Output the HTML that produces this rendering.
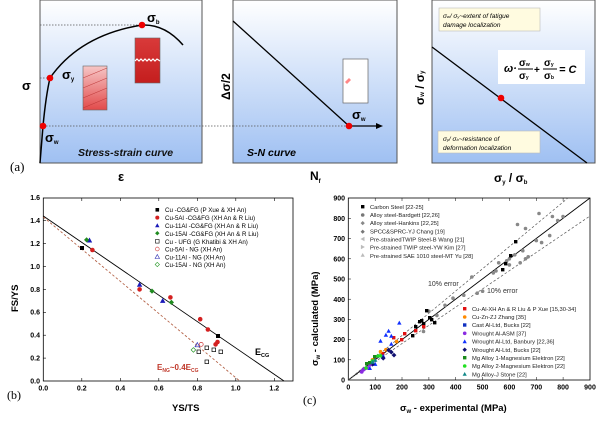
<!DOCTYPE html>
<html><head><style>
body{margin:0;background:#fff;}
svg{font-family:"Liberation Sans",Arial,sans-serif;}
</style></head><body>
<svg width="600" height="420" viewBox="0 0 600 420" xmlns="http://www.w3.org/2000/svg">
<defs>
<linearGradient id="bg" x1="0" y1="0" x2="0" y2="1"><stop offset="0" stop-color="#fff"/><stop offset="1" stop-color="#9fc0f2"/></linearGradient>
<linearGradient id="pk" x1="0" y1="0" x2="0" y2="1"><stop offset="0" stop-color="#f6c6c6"/><stop offset="1" stop-color="#e24a4a"/></linearGradient>
<linearGradient id="rd" x1="0" y1="0" x2="0" y2="1"><stop offset="0" stop-color="#d93a3a"/><stop offset="1" stop-color="#c41e1e"/></linearGradient>
</defs>
<!-- Panel a1 -->
<rect x="40" y="0" width="162" height="163" fill="url(#bg)" stroke="#555" stroke-width="1"/>
<line x1="40" y1="25" x2="142" y2="25" stroke="#555" stroke-dasharray="1.5,1.5" stroke-width="0.7"/>
<line x1="40" y1="78" x2="50" y2="78" stroke="#555" stroke-dasharray="1.5,1.5" stroke-width="0.7"/>
<line x1="40" y1="126" x2="349" y2="126" stroke="#555" stroke-dasharray="1.5,1.5" stroke-width="0.7"/>
<path d="M40,163 L43,126 Q46,95 50,78 Q80,35 142,25 Q165,24 183,45" fill="none" stroke="#000" stroke-width="1.5"/>
<rect x="83" y="66" width="24" height="44" fill="url(#pk)" stroke="#666" stroke-width="0.6"/>
<g stroke="#b33" stroke-width="0.5"><line x1="83" y1="78" x2="107" y2="68"/><line x1="83" y1="88" x2="107" y2="78"/><line x1="83" y1="98" x2="107" y2="88"/><line x1="83" y1="108" x2="107" y2="98"/></g>
<rect x="135" y="38" width="25" height="45" fill="url(#rd)" stroke="#666" stroke-width="0.6"/>
<path d="M135,61 l2,-2 l2,2 l2,-2 l2,2 l2,-2 l2,2 l2,-2 l2,2 l2,-2 l2,2 l2,-2 l3,2" fill="none" stroke="#fff" stroke-width="1.2"/>
<circle cx="43" cy="126" r="3.3" fill="#e00"/><circle cx="50" cy="78" r="3.3" fill="#e00"/><circle cx="142" cy="25" r="3.3" fill="#e00"/>
<text x="147" y="22" font-size="13" font-weight="bold">σ<tspan font-size="6" dy="2">b</tspan></text>
<text x="62" y="79" font-size="13" font-weight="bold">σ<tspan font-size="6" dy="2">y</tspan></text>
<text x="45" y="142" font-size="13" font-weight="bold">σ<tspan font-size="6" dy="2">w</tspan></text>
<text x="78" y="156" font-size="10.5" font-weight="bold" font-style="italic" fill="#111">Stress-strain curve</text>
<text x="22" y="90" font-size="13" font-weight="bold">σ</text>
<text x="118" y="181" font-size="13" font-weight="bold">ε</text>
<text x="10" y="171" font-size="13" font-family="Liberation Serif">(a)</text>
<!-- Panel a2 -->
<rect x="233" y="0" width="164" height="163" fill="url(#bg)" stroke="#555" stroke-width="1"/>
<line x1="233" y1="126" x2="349" y2="126" stroke="#555" stroke-dasharray="1.5,1.5" stroke-width="0.7"/>
<line x1="233" y1="21" x2="349" y2="126" stroke="#000" stroke-width="1.3"/>
<line x1="349" y1="126" x2="378" y2="126" stroke="#000" stroke-width="1.3"/><path d="M383,126 l-7,-3 v6z" fill="#000"/>
<rect x="343" y="59" width="25" height="44" fill="#fff" stroke="#666" stroke-width="0.7"/>
<path d="M345,82 l4,-4 l2,2 l-4,4z" fill="#f88"/>
<circle cx="349" cy="126" r="3.3" fill="#e00"/>
<text x="352" y="119" font-size="13" font-weight="bold">σ<tspan font-size="6" dy="2">w</tspan></text>
<text x="247" y="156" font-size="10.5" font-weight="bold" font-style="italic">S-N curve</text>
<text transform="translate(230,100) rotate(-90)" font-size="12" font-weight="bold">Δσ/2</text>
<text x="310" y="180" font-size="12" font-weight="bold">N<tspan font-size="6" dy="3">f</tspan></text>
<!-- Panel a3 -->
<rect x="432" y="0" width="163" height="163" fill="url(#bg)" stroke="#555" stroke-width="1"/>
<line x1="432" y1="47" x2="587" y2="163" stroke="#000" stroke-width="1.3"/>
<circle cx="501" cy="98" r="3.3" fill="#e00"/>
<rect x="439" y="8" width="101" height="23" fill="#fffbe0" stroke="#bbb" stroke-width="0.6"/>
<text x="443" y="18" font-size="6.5" font-style="italic">σ<tspan font-size="4">w</tspan>/ σ<tspan font-size="4">y</tspan>~extent of fatigue</text>
<text x="443" y="27" font-size="6.5" font-style="italic">damage localization</text>
<rect x="498" y="50" width="87" height="34" fill="#fff"/>
<text x="504" y="72" font-size="11" font-weight="bold" font-style="italic">ω·</text>
<text x="519" y="66" font-size="10" font-weight="bold">σ<tspan font-size="5">w</tspan></text><line x1="518" y1="69" x2="533" y2="69" stroke="#000"/><text x="519" y="79" font-size="10" font-weight="bold">σ<tspan font-size="5">y</tspan></text>
<text x="534" y="73" font-size="10" font-weight="bold">+</text>
<text x="544" y="66" font-size="10" font-weight="bold">σ<tspan font-size="5">y</tspan></text><line x1="543" y1="69" x2="557" y2="69" stroke="#000"/><text x="544" y="79" font-size="10" font-weight="bold">σ<tspan font-size="5">b</tspan></text>
<text x="559" y="73" font-size="11" font-weight="bold" font-style="italic">= C</text>
<rect x="438" y="131" width="102" height="22" fill="#fffbe0" stroke="#bbb" stroke-width="0.6"/>
<text x="443" y="141" font-size="6.5" font-style="italic">σ<tspan font-size="4">y</tspan>/ σ<tspan font-size="4">b</tspan>~resistance of</text>
<text x="443" y="150" font-size="6.5" font-style="italic">deformation localization</text>
<text transform="translate(424,105) rotate(-90)" font-size="12" font-weight="bold">σ<tspan font-size="6">w</tspan> / σ<tspan font-size="6">y</tspan></text>
<text x="494" y="182" font-size="12" font-weight="bold">σ<tspan font-size="6" dy="2">y</tspan><tspan dy="-2"> / σ</tspan><tspan font-size="6" dy="2">b</tspan></text>

<!-- Plot b -->
<g font-size="6" font-weight="bold">
<rect x="43.3" y="198" width="249.7" height="183" fill="none" stroke="#000" stroke-width="0.8"/>
<g stroke="#000" stroke-width="0.6">
<line x1="81.8" y1="381" x2="81.8" y2="378"/><line x1="120.3" y1="381" x2="120.3" y2="378"/><line x1="158.8" y1="381" x2="158.8" y2="378"/><line x1="197.3" y1="381" x2="197.3" y2="378"/><line x1="235.8" y1="381" x2="235.8" y2="378"/><line x1="274.3" y1="381" x2="274.3" y2="378"/>
<line x1="81.8" y1="198" x2="81.8" y2="201"/><line x1="120.3" y1="198" x2="120.3" y2="201"/><line x1="158.8" y1="198" x2="158.8" y2="201"/><line x1="197.3" y1="198" x2="197.3" y2="201"/><line x1="235.8" y1="198" x2="235.8" y2="201"/><line x1="274.3" y1="198" x2="274.3" y2="201"/>
<line x1="43" y1="358.1" x2="46" y2="358.1"/><line x1="43" y1="335.2" x2="46" y2="335.2"/><line x1="43" y1="312.3" x2="46" y2="312.3"/><line x1="43" y1="289.4" x2="46" y2="289.4"/><line x1="43" y1="266.5" x2="46" y2="266.5"/><line x1="43" y1="243.6" x2="46" y2="243.6"/><line x1="43" y1="220.7" x2="46" y2="220.7"/>
</g>
<g text-anchor="middle" font-size="7"><text x="43.3" y="390.5">0.0</text><text x="81.8" y="390.5">0.2</text><text x="120.3" y="390.5">0.4</text><text x="158.8" y="390.5">0.6</text><text x="197.3" y="390.5">0.8</text><text x="235.8" y="390.5">1.0</text><text x="274.3" y="390.5">1.2</text></g>
<g text-anchor="end" font-size="7"><text x="40" y="383.5">0.0</text><text x="40" y="360.5">0.2</text><text x="40" y="337.5">0.4</text><text x="40" y="314.5">0.6</text><text x="40" y="292">0.8</text><text x="40" y="269">1.0</text><text x="40" y="246">1.2</text><text x="40" y="223">1.4</text><text x="40" y="200">1.6</text></g>
</g>
<line x1="43.3" y1="216" x2="284" y2="381" stroke="#000" stroke-width="0.9"/>
<line x1="43.3" y1="217" x2="239.7" y2="381" stroke="#b5654a" stroke-width="0.9" stroke-dasharray="2.5,2"/>
<g>
<rect x="80" y="246" width="4" height="4" fill="#000"/><rect x="216" y="334" width="4" height="4" fill="#000"/>
<g fill="#d42020"><circle cx="92.4" cy="250" r="2.3"/><circle cx="139.6" cy="289.4" r="2.3"/><circle cx="170.4" cy="297.4" r="2.3"/><circle cx="200.2" cy="319.2" r="2.3"/><circle cx="207.9" cy="329.5" r="2.3"/><circle cx="215.6" cy="344.4" r="2.3"/><circle cx="217.5" cy="342" r="2.3"/></g>
<g fill="#1a1ab8"><path d="M89.5,237.5 l2.7,5 h-5.4z"/><path d="M139.6,281.8 l2.7,5 h-5.4z"/><path d="M162.7,297.9 l2.7,5 h-5.4z"/></g>
<g fill="#1f8a1f"><path d="M86.6,237.3 l2.6,2.6 l-2.6,2.6 l-2.6,-2.6z"/><path d="M152,288.5 l2.6,2.6 l-2.6,2.6 l-2.6,-2.6z"/><path d="M171.4,299.8 l2.6,2.6 l-2.6,2.6 l-2.6,-2.6z"/></g>
<g fill="none" stroke="#000" stroke-width="0.7"><rect x="197" y="350" width="3.6" height="3.6"/><rect x="205" y="346" width="3.6" height="3.6"/><rect x="212" y="348" width="3.6" height="3.6"/><rect x="219" y="350" width="3.6" height="3.6"/><rect x="205" y="360" width="3.6" height="3.6"/></g>
<circle cx="201.2" cy="344.4" r="2" fill="none" stroke="#c33" stroke-width="0.7"/>
<path d="M197.3,342.5 l2.3,4.3 h-4.6z" fill="none" stroke="#2a2ab0" stroke-width="0.7"/>
<path d="M193.4,347.6 l2.3,2.3 l-2.3,2.3 l-2.3,-2.3z" fill="none" stroke="#2a9a2a" stroke-width="0.7"/>
</g>
<g font-size="6.2">
<rect x="155.5" y="208" width="3.6" height="3.6" fill="#000"/><text x="165" y="212">Cu -CG&amp;FG (P Xue &amp; XH An)</text>
<circle cx="157.3" cy="217.6" r="2" fill="#d42020"/><text x="165" y="220">Cu-5Al -CG&amp;FG (XH An &amp; R Liu)</text>
<path d="M157.3,223.3 l2.2,4 h-4.4z" fill="#1a1ab8"/><text x="165" y="228">Cu-11Al -CG&amp;FG (XH An &amp; R Liu)</text>
<path d="M157.3,231 l2.2,2.2 l-2.2,2.2 l-2.2,-2.2z" fill="#1f8a1f"/><text x="165" y="236">Cu-15Al -CG&amp;FG (XH An &amp; R Liu)</text>
<rect x="155.5" y="239.5" width="3.6" height="3.6" fill="none" stroke="#000" stroke-width="0.6"/><text x="165" y="244">Cu - UFG (G Khatibi &amp; XH An)</text>
<circle cx="157.3" cy="249" r="1.9" fill="none" stroke="#c33" stroke-width="0.6"/><text x="165" y="251.5">Cu-5Al - NG (XH An)</text>
<path d="M157.3,254.5 l2.2,4 h-4.4z" fill="none" stroke="#2a2ab0" stroke-width="0.6"/><text x="165" y="259.5">Cu-11Al - NG (XH An)</text>
<path d="M157.3,262.3 l2.2,2.2 l-2.2,2.2 l-2.2,-2.2z" fill="none" stroke="#2a9a2a" stroke-width="0.6"/><text x="165" y="267">Cu-15Al - NG (XH An)</text>
</g>
<text x="255" y="355" font-size="9" font-weight="bold">E<tspan font-size="5.5" dy="2">CG</tspan></text>
<text x="157" y="370" font-size="8" font-weight="bold" fill="#c0392b">E<tspan font-size="5" dy="2">NG</tspan><tspan dy="-2">~0.4E</tspan><tspan font-size="5" dy="2">CG</tspan></text>
<text x="7" y="399" font-size="12" font-family="Liberation Serif">(b)</text>
<text x="172" y="411" font-size="9.5" font-weight="bold">YS/TS</text>
<text transform="translate(18,312) rotate(-90)" font-size="9.5" font-weight="bold">FS/YS</text>

<!-- Plot c -->
<rect x="348.3" y="198" width="241.7" height="182" fill="none" stroke="#000" stroke-width="0.8"/>
<g font-size="7" font-weight="bold" text-anchor="middle">
<text x="348.3" y="389.5">0</text><text x="375.2" y="389.5">100</text><text x="402" y="389.5">200</text><text x="428.9" y="389.5">300</text><text x="455.7" y="389.5">400</text><text x="482.6" y="389.5">500</text><text x="509.4" y="389.5">600</text><text x="536.3" y="389.5">700</text><text x="563.1" y="389.5">800</text><text x="590" y="389.5">900</text>
</g>
<g font-size="7" font-weight="bold" text-anchor="end">
<text x="345" y="382.5">0</text><text x="345" y="362.3">100</text><text x="345" y="342">200</text><text x="345" y="322">300</text><text x="345" y="301.8">400</text><text x="345" y="281.6">500</text><text x="345" y="261.4">600</text><text x="345" y="241.2">700</text><text x="345" y="221">800</text><text x="345" y="200.5">900</text>
</g>
<g stroke="#000" stroke-width="0.5">
<path d="M375.2,380v-3M402,380v-3M428.9,380v-3M455.7,380v-3M482.6,380v-3M509.4,380v-3M536.3,380v-3M563.1,380v-3M375.2,198v3M402,198v3M428.9,198v3M455.7,198v3M482.6,198v3M509.4,198v3M536.3,198v3M563.1,198v3"/>
<path d="M348,359.8h3M348,339.6h3M348,319.4h3M348,299.2h3M348,279h3M348,258.8h3M348,238.6h3M348,218.4h3"/>
</g>
<line x1="348.3" y1="380" x2="590" y2="198" stroke="#000" stroke-width="0.9"/>
<line x1="348.3" y1="380" x2="568" y2="198" stroke="#555" stroke-width="0.7" stroke-dasharray="2.5,2"/>
<line x1="348.3" y1="380" x2="590" y2="216" stroke="#555" stroke-dasharray="2.5,2" stroke-width="0.7"/>
<text x="428" y="286" font-size="7" fill="#333">10% error</text>
<text x="487" y="293" font-size="7" fill="#333">10% error</text>
<g fill="#888">
<circle cx="517.5" cy="224.5" r="1.8"/><circle cx="525.5" cy="228.5" r="1.8"/><circle cx="539" cy="213.5" r="1.8"/><circle cx="552.4" cy="216.5" r="1.8"/><circle cx="557.7" cy="220.5" r="1.8"/><circle cx="563" cy="216.5" r="1.8"/><circle cx="549.7" cy="235.6" r="1.8"/><circle cx="536.3" cy="240.6" r="1.8"/><circle cx="541.6" cy="242.6" r="1.8"/><circle cx="522.8" cy="250.7" r="1.8"/><circle cx="514.8" cy="254.8" r="1.8"/><circle cx="509.4" cy="258.8" r="1.8"/><circle cx="506.7" cy="260.8" r="1.8"/><circle cx="496" cy="270.9" r="1.8"/><circle cx="493.3" cy="272.9" r="1.8"/><circle cx="498.7" cy="262.8" r="1.8"/><circle cx="509.4" cy="264.9" r="1.8"/><circle cx="525.5" cy="258.8" r="1.8"/><circle cx="528.2" cy="256.8" r="1.8"/><circle cx="520.2" cy="262.8" r="1.8"/><circle cx="482.6" cy="291.2" r="1.8"/><circle cx="477.2" cy="293.2" r="1.8"/><circle cx="471.8" cy="277" r="1.8"/><circle cx="463.8" cy="295.2" r="1.8"/><circle cx="453" cy="298.2" r="1.8"/><circle cx="445" cy="305.3" r="1.8"/><circle cx="428.9" cy="311.3" r="1.8"/><circle cx="423.5" cy="331.5" r="1.8"/><circle cx="436.9" cy="315.4" r="1.8"/>
</g>
<g fill="#000">
<rect x="514" y="240" width="3.4" height="3.4"/><rect x="509" y="254" width="3.4" height="3.4"/><rect x="501" y="268" width="3.4" height="3.4"/><rect x="504" y="262" width="3.4" height="3.4"/><rect x="425" y="309" width="3.4" height="3.4"/><rect x="430" y="318" width="3.4" height="3.4"/><rect x="433" y="321" width="3.4" height="3.4"/><rect x="428" y="316" width="3.4" height="3.4"/><rect x="418" y="320" width="3.4" height="3.4"/><rect x="420" y="319" width="3.4" height="3.4"/><rect x="414" y="325" width="3.4" height="3.4"/><rect x="411" y="334" width="3.4" height="3.4"/><rect x="422" y="322" width="3.4" height="3.4"/>
</g>
<g fill="#e01010"><rect x="392" y="336" width="3.4" height="3.4"/><rect x="403" y="332" width="3.4" height="3.4"/><rect x="414" y="329" width="3.4" height="3.4"/><rect x="422" y="325" width="3.4" height="3.4"/><rect x="400" y="338" width="3.4" height="3.4"/><rect x="381" y="352" width="3.4" height="3.4"/><rect x="373" y="356" width="3.4" height="3.4"/></g>
<g fill="#ff8a00"><circle cx="396.6" cy="341.6" r="1.8"/><circle cx="380.5" cy="351.7" r="1.8"/><circle cx="372.5" cy="359.8" r="1.8"/><circle cx="385.9" cy="349.7" r="1.8"/></g>
<g fill="#1030ff"><path d="M385.9,332.7l2.2,4h-4.4z"/><path d="M388.6,328.7l2.2,4h-4.4z"/><path d="M399.3,320.6l2.2,4h-4.4z"/><path d="M380.5,338.7l2.2,4h-4.4z"/><path d="M391.3,333.7l2.2,4h-4.4z"/><path d="M383.2,353.9l2.2,4h-4.4z"/><path d="M375.2,361.9l2.2,4h-4.4z"/><path d="M369.8,366l2.2,4h-4.4z"/><path d="M391.3,341.8l2.2,4h-4.4z"/></g>
<g fill="#101070"><path d="M391.3,349.7l2.4,2.4l-2.4,2.4l-2.4,-2.4z"/><path d="M394,352.7l2.4,2.4l-2.4,2.4l-2.4,-2.4z"/><path d="M388.6,347.7l2.4,2.4l-2.4,2.4l-2.4,-2.4z"/><path d="M383.2,355.8l2.4,2.4l-2.4,2.4l-2.4,-2.4z"/><path d="M372.5,361.8l2.4,2.4l-2.4,2.4l-2.4,-2.4z"/><path d="M377.9,353.8l2.4,2.4l-2.4,2.4l-2.4,-2.4z"/></g>
<g fill="#8a2be2"><circle cx="361.7" cy="371.9" r="1.9"/><circle cx="363.1" cy="369.9" r="1.9"/><circle cx="364.4" cy="368.9" r="1.9"/><circle cx="367.1" cy="367.9" r="1.9"/><circle cx="369.8" cy="364.9" r="1.9"/></g>
<g fill="#1a8a1a"><rect x="365" y="362" width="3.4" height="3.4"/><rect x="368" y="361" width="3.4" height="3.4"/><rect x="373" y="355" width="3.4" height="3.4"/></g>
<g fill="#22e022"><circle cx="372.5" cy="360.8" r="1.8"/><circle cx="378" cy="356" r="1.8"/><circle cx="380.5" cy="355.8" r="1.8"/><circle cx="366" cy="368" r="1.8"/></g>
<g fill="#118888"><path d="M375.2,357.8l2.2,4h-4.4z"/><path d="M372.5,359.8l2.2,4h-4.4z"/></g>
<g font-size="5.8" fill="#222">
<rect x="361" y="205" width="3.4" height="3.4" fill="#000"/><text x="370" y="209">Carbon Steel [22-25]</text>
<circle cx="362.7" cy="215" r="1.8" fill="#777"/><text x="370" y="217">Alloy steel-Bardgett [22,26]</text>
<path d="M362.7,221l2.1,2.1l-2.1,2.1l-2.1,-2.1z" fill="#888"/><text x="370" y="225">Alloy steel-Hankins [22,25]</text>
<path d="M362.7,229.6l2.1,2.1l-2.1,2.1l-2.1,-2.1z" fill="#777"/><text x="370" y="233.5">SPCC&amp;SPRC-YJ Chang [19]</text>
<path d="M360.5,239l4,-2.2v4.4z" fill="#bbb"/><text x="370" y="241.5">Pre-strainedTWIP Steel-B Wang [21]</text>
<path d="M364.9,247l-4,-2.2v4.4z" fill="#bbb"/><text x="370" y="249.5">Pre-strained TWIP steel-YW Kim [27]</text>
<path d="M362.7,253l2.1,3.8h-4.2z" fill="#bbb"/><text x="370" y="258">Pre-strained SAE 1010 steel-MT Yu [28]</text>
<rect x="463" y="307" width="3.4" height="3.4" fill="#e01010"/><text x="472" y="311">Cu-Al-XH An &amp; R Liu &amp; P Xue [15,30-34]</text>
<circle cx="464.7" cy="317" r="1.8" fill="#ff8a00"/><text x="472" y="319">Cu-Zn-ZJ Zhang [35]</text>
<rect x="463" y="323.3" width="3.4" height="3.4" fill="#1030c0"/><text x="472" y="327.2">Cast Al-Ltd, Bucks [22]</text>
<circle cx="464.7" cy="333.3" r="1.8" fill="#8a2be2"/><text x="472" y="335.4">Wrought Al-ASM [37]</text>
<path d="M464.7,339.4l2.1,3.8h-4.2z" fill="#1030ff"/><text x="472" y="343.6">Wrought Al-Ltd, Banbury [22,36]</text>
<path d="M464.7,347.5l2.2,2.2l-2.2,2.2l-2.2,-2.2z" fill="#101070"/><text x="472" y="351.8">Wrought  Al-Ltd, Bucks [22]</text>
<rect x="463" y="356" width="3.4" height="3.4" fill="#1a8a1a"/><text x="472" y="360">Mg Alloy 1-Magnesium Elektron [22]</text>
<circle cx="464.7" cy="366" r="1.8" fill="#22e022"/><text x="472" y="368.2">Mg Alloy 2-Magnesium  Elektron [22]</text>
<path d="M464.7,372l2.1,3.8h-4.2z" fill="#118888"/><text x="472" y="376.4">Mg Alloy-J Stone [22]</text>
</g>
<text x="303" y="404" font-size="12" font-family="Liberation Serif">(c)</text>
<text x="400" y="411" font-size="9.5" font-weight="bold">σ<tspan font-size="6" dy="2">w</tspan><tspan dy="-2"> - experimental (MPa)</tspan></text>
<text transform="translate(318,366) rotate(-90)" font-size="9.5" font-weight="bold">σ<tspan font-size="6" dy="2">w</tspan><tspan dy="-2"> - calculated (MPa)</tspan></text>
</svg>
</body></html>
